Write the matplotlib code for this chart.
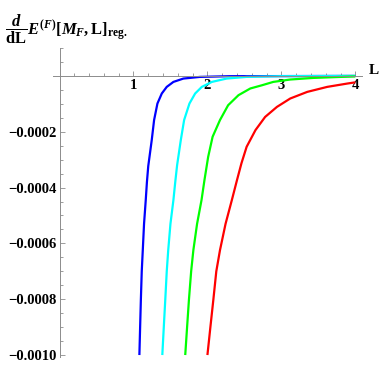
import matplotlib
matplotlib.use("Agg")
import matplotlib.pyplot as plt
from matplotlib.ticker import FixedLocator, MultipleLocator

plt.rcParams["font.family"] = ["Liberation Serif", "DejaVu Serif"]
plt.rcParams["font.weight"] = "bold"
plt.rcParams["mathtext.fontset"] = "custom"
plt.rcParams["mathtext.rm"] = "Liberation Serif:bold"
plt.rcParams["mathtext.bf"] = "Liberation Serif:bold"
plt.rcParams["mathtext.it"] = "Liberation Serif:bold:italic"

# values (L, dE/dL)
blue_L = [1.08, 1.09, 1.10, 1.112, 1.126, 1.143, 1.166, 1.182, 1.20, 1.247, 1.279, 1.324,
          1.383, 1.45, 1.54, 1.675, 1.90, 2.3, 4.0]
blue_E = [-0.001, -0.0009, -0.000802, -0.0007, -0.000624, -0.00053, -0.000445, -0.00038,
          -0.000323, -0.00023, -0.000158, -0.0000989, -0.000063, -0.0000393, -0.0000215,
          -0.0000095, -0.0000035, -0.000001, 0.0]

cyan_L = [1.39, 1.41, 1.43, 1.45, 1.47, 1.50, 1.54, 1.565, 1.59, 1.64, 1.685, 1.757, 1.834,
          1.924, 2.06, 2.26, 2.53, 3.0, 4.0]
cyan_E = [-0.001, -0.0009, -0.000802, -0.0007, -0.000624, -0.00053, -0.000445, -0.00038,
          -0.00032, -0.00023, -0.000158, -0.0000989, -0.000063, -0.0000393, -0.0000215,
          -0.0000095, -0.0000035, -0.000001, 0.0]

green_L = [1.70, 1.725, 1.75, 1.78, 1.81, 1.86, 1.92, 1.96, 2.01, 2.07, 2.17, 2.28, 2.42,
           2.58, 2.74, 2.89, 3.12, 3.43, 3.80, 4.0]
green_E = [-0.001, -0.0009, -0.000802, -0.0007, -0.000624, -0.00053, -0.000445, -0.000373,
           -0.00029, -0.000218, -0.000158, -0.000105, -0.000069, -0.000045, -0.0000333,
           -0.0000215, -0.0000129, -0.0000072, -0.0000036, -0.000002]

red_L = [2.00, 2.04, 2.08, 2.12, 2.17, 2.245, 2.33, 2.40, 2.46, 2.53, 2.65, 2.78, 2.94, 3.12,
         3.35, 3.62, 3.89, 4.0]
red_E = [-0.001, -0.0009, -0.000802, -0.0007, -0.000624, -0.00053, -0.000445, -0.000373,
         -0.000313, -0.000254, -0.000194, -0.000147, -0.000111, -0.0000809, -0.0000572,
         -0.0000393, -0.0000274, -0.000023]

x_ticks = [1, 2, 3, 4]
y_ticks = [-0.0002, -0.0004, -0.0006, -0.0008, -0.0010]
y_labels = ["\u22120.0002", "\u22120.0004", "\u22120.0006", "\u22120.0008", "\u22120.0010"]

W, H = 382, 366
fig = plt.figure(figsize=(W / 100, H / 100), dpi=100)
ax = fig.add_axes([53 / W, 1 - 357 / H, (362 - 53) / W, (357 - 48) / H])

for L, E, col in [(blue_L, blue_E, "#0000ff"), (cyan_L, cyan_E, "#00ffff"),
                  (green_L, green_E, "#00ff00"), (red_L, red_E, "#ff0000")]:
    ax.plot(L, E, color=col, lw=1.6, solid_capstyle="butt", solid_joinstyle="round")

ax.set_xlim(-0.088, 4.09)
ax.set_ylim(-0.001007, 0.0001)

axis_col = "#8c8c8c"
for s in ["top", "right"]:
    ax.spines[s].set_visible(False)
ax.spines["left"].set_position(("data", 0))
ax.spines["bottom"].set_position(("data", 0))
for s in ["left", "bottom"]:
    ax.spines[s].set_color(axis_col)
    ax.spines[s].set_linewidth(0.7)

ax.xaxis.set_major_locator(FixedLocator(x_ticks))
ax.set_xticklabels([str(t) for t in x_ticks])
ax.xaxis.set_minor_locator(MultipleLocator(0.2))
ax.yaxis.set_major_locator(FixedLocator(y_ticks))
ax.set_yticklabels(y_labels)
ax.yaxis.set_minor_locator(MultipleLocator(0.00005))

ax.tick_params(which="both", direction="in", color=axis_col, width=0.6)
ax.tick_params(which="major", length=3.5, labelsize=10.5)
ax.tick_params(which="minor", length=2)
ax.tick_params(axis="x", pad=2)
ax.tick_params(axis="y", pad=2)
for lab in ax.get_xticklabels() + ax.get_yticklabels():
    lab.set_fontweight("bold")

fig.text(369 / W, 1 - 70 / H, "L", fontsize=11, fontweight="bold", va="center", ha="left")
fig.text(5 / W, 1 - 46 / H,
         r"$\dfrac{d}{\mathrm{dL}}E^{(F)}\mathrm{[}M_F\mathrm{,L]}_{\mathrm{reg.}}$",
         fontsize=12, va="bottom", ha="left")

fig.savefig("out.png", dpi=100)
